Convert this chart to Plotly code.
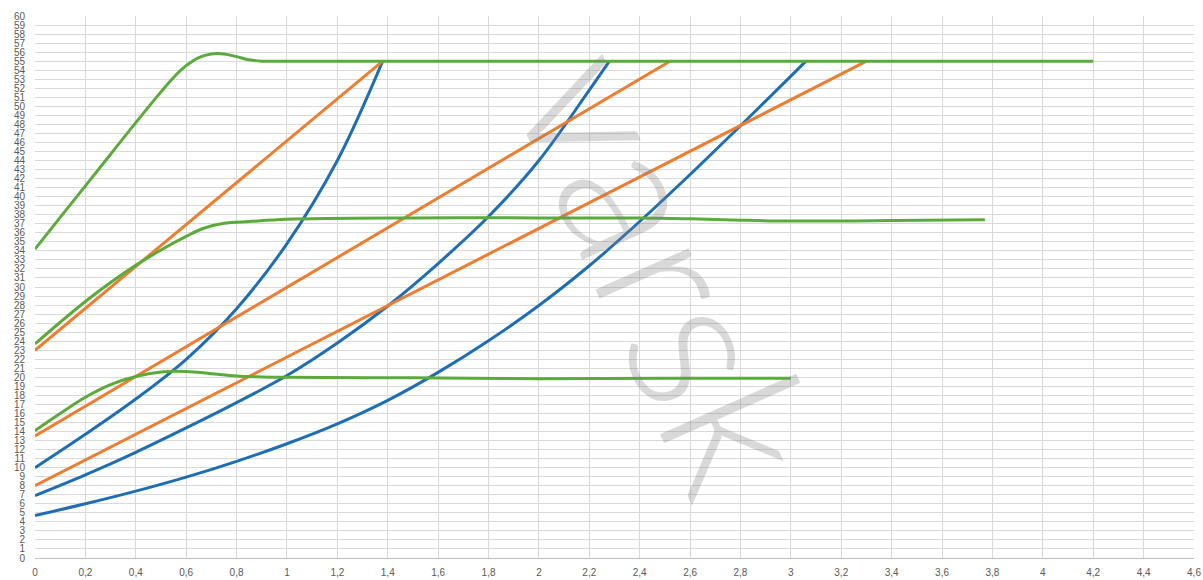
import plotly.graph_objects as go

# blue curves
blue1_x = [0, 0.2, 0.4, 0.6, 0.8, 1.0, 1.2, 1.38]
blue1_y = [10, 13.7, 17.6, 22.0, 27.6, 34.8, 44.0, 55]
blue2_x = [0, 0.2, 0.4, 0.6, 0.8, 1.0, 1.2, 1.4, 1.6, 1.8, 2.0, 2.2, 2.28]
blue2_y = [6.9, 9.2, 11.7, 14.4, 17.2, 20.2, 23.8, 27.9, 32.6, 37.8, 44.0, 51.8, 55]
blue3_x = [0, 0.2, 0.4, 0.6, 0.8, 1.0, 1.2, 1.4, 1.6, 1.8, 2.0, 2.2, 2.4, 2.6, 2.8, 3.0, 3.06]
blue3_y = [4.7, 6.0, 7.4, 8.95, 10.7, 12.65, 14.85, 17.45, 20.55, 24.05, 27.95, 32.35, 37.25, 42.45, 47.85, 53.35, 55]

# orange lines
orange1_x = [0, 1.38]
orange1_y = [23.0, 55]
orange2_x = [0, 2.52]
orange2_y = [13.5, 55]
orange3_x = [0, 3.30]
orange3_y = [8.0, 55]

# green curves
green1_x = [0, 0.1, 0.2, 0.3, 0.4, 0.5, 0.55, 0.6, 0.65, 0.7, 0.75, 0.8, 0.85, 0.9, 1.0, 2.0, 3.0, 4.2]
green1_y = [34.2, 37.7, 41.2, 44.7, 48.2, 51.6, 53.2, 54.5, 55.4, 55.8, 55.8, 55.5, 55.15, 55, 55, 55, 55, 55]
green2_x = [0, 0.1, 0.2, 0.3, 0.4, 0.5, 0.6, 0.67, 0.75, 0.85, 1.0, 1.5, 2.0, 2.4, 2.6, 2.8, 3.0, 3.4, 3.77]
green2_y = [23.7, 26.1, 28.4, 30.5, 32.4, 34.1, 35.6, 36.5, 37.05, 37.25, 37.5, 37.65, 37.65, 37.65, 37.55, 37.4, 37.3, 37.35, 37.45]
green3_x = [0, 0.1, 0.2, 0.3, 0.4, 0.5, 0.6, 0.7, 0.8, 0.9, 1.0, 1.5, 2.0, 2.5, 3.0]
green3_y = [14.1, 16.0, 17.8, 19.2, 20.1, 20.6, 20.65, 20.4, 20.15, 20.05, 20.0, 19.95, 19.85, 19.9, 19.9]

x_ticks = [i / 5 for i in range(24)]
x_labels = ["0", "0,2", "0,4", "0,6", "0,8", "1", "1,2", "1,4", "1,6", "1,8", "2", "2,2",
            "2,4", "2,6", "2,8", "3", "3,2", "3,4", "3,6", "3,8", "4", "4,2", "4,4", "4,6"]
y_ticks = list(range(61))

BLUE = "#1f6eb3"
ORANGE = "#ed7d31"
GREEN = "#5aaa3c"

series = [
    (blue1_x, blue1_y, BLUE), (blue2_x, blue2_y, BLUE), (blue3_x, blue3_y, BLUE),
    (orange1_x, orange1_y, ORANGE), (orange2_x, orange2_y, ORANGE), (orange3_x, orange3_y, ORANGE),
    (green1_x, green1_y, GREEN), (green2_x, green2_y, GREEN), (green3_x, green3_y, GREEN),
]

fig = go.Figure()
for xs, ys, col in series:
    fig.add_trace(go.Scatter(x=xs, y=ys, mode="lines",
                             line=dict(color=col, width=3, shape="spline", smoothing=1.0),
                             showlegend=False, hoverinfo="skip"))

# watermark
fig.add_annotation(text="varsk", xref="paper", yref="paper", x=0.55, y=0.535,
                   showarrow=False, textangle=66,
                   font=dict(family="Lato", weight=300, size=205, color="rgba(130,130,130,0.3)"))

fig.update_layout(
    width=1203, height=580,
    margin=dict(l=35, r=9, t=16, b=22),
    paper_bgcolor="white", plot_bgcolor="white",
    font=dict(family="Liberation Sans", size=10, color="#595959"),
)
fig.update_xaxes(range=[0, 4.6], tickvals=x_ticks, ticktext=x_labels,
                 showgrid=True, gridcolor="#d9d9d9", gridwidth=1,
                 showline=True, linecolor="#bfbfbf", linewidth=1,
                 zeroline=False, ticks="", ticklabelstandoff=5,
                 tickfont=dict(size=10), automargin=False)
fig.update_yaxes(range=[0, 60], tickvals=y_ticks,
                 showgrid=True, gridcolor="#d9d9d9", gridwidth=1,
                 showline=False, zeroline=False, ticks="", ticklabelstandoff=9,
                 tickfont=dict(size=10), automargin=False)

fig.write_html("out.html", config={"displayModeBar": False},
               post_script="document.body.style.margin='0px';")
